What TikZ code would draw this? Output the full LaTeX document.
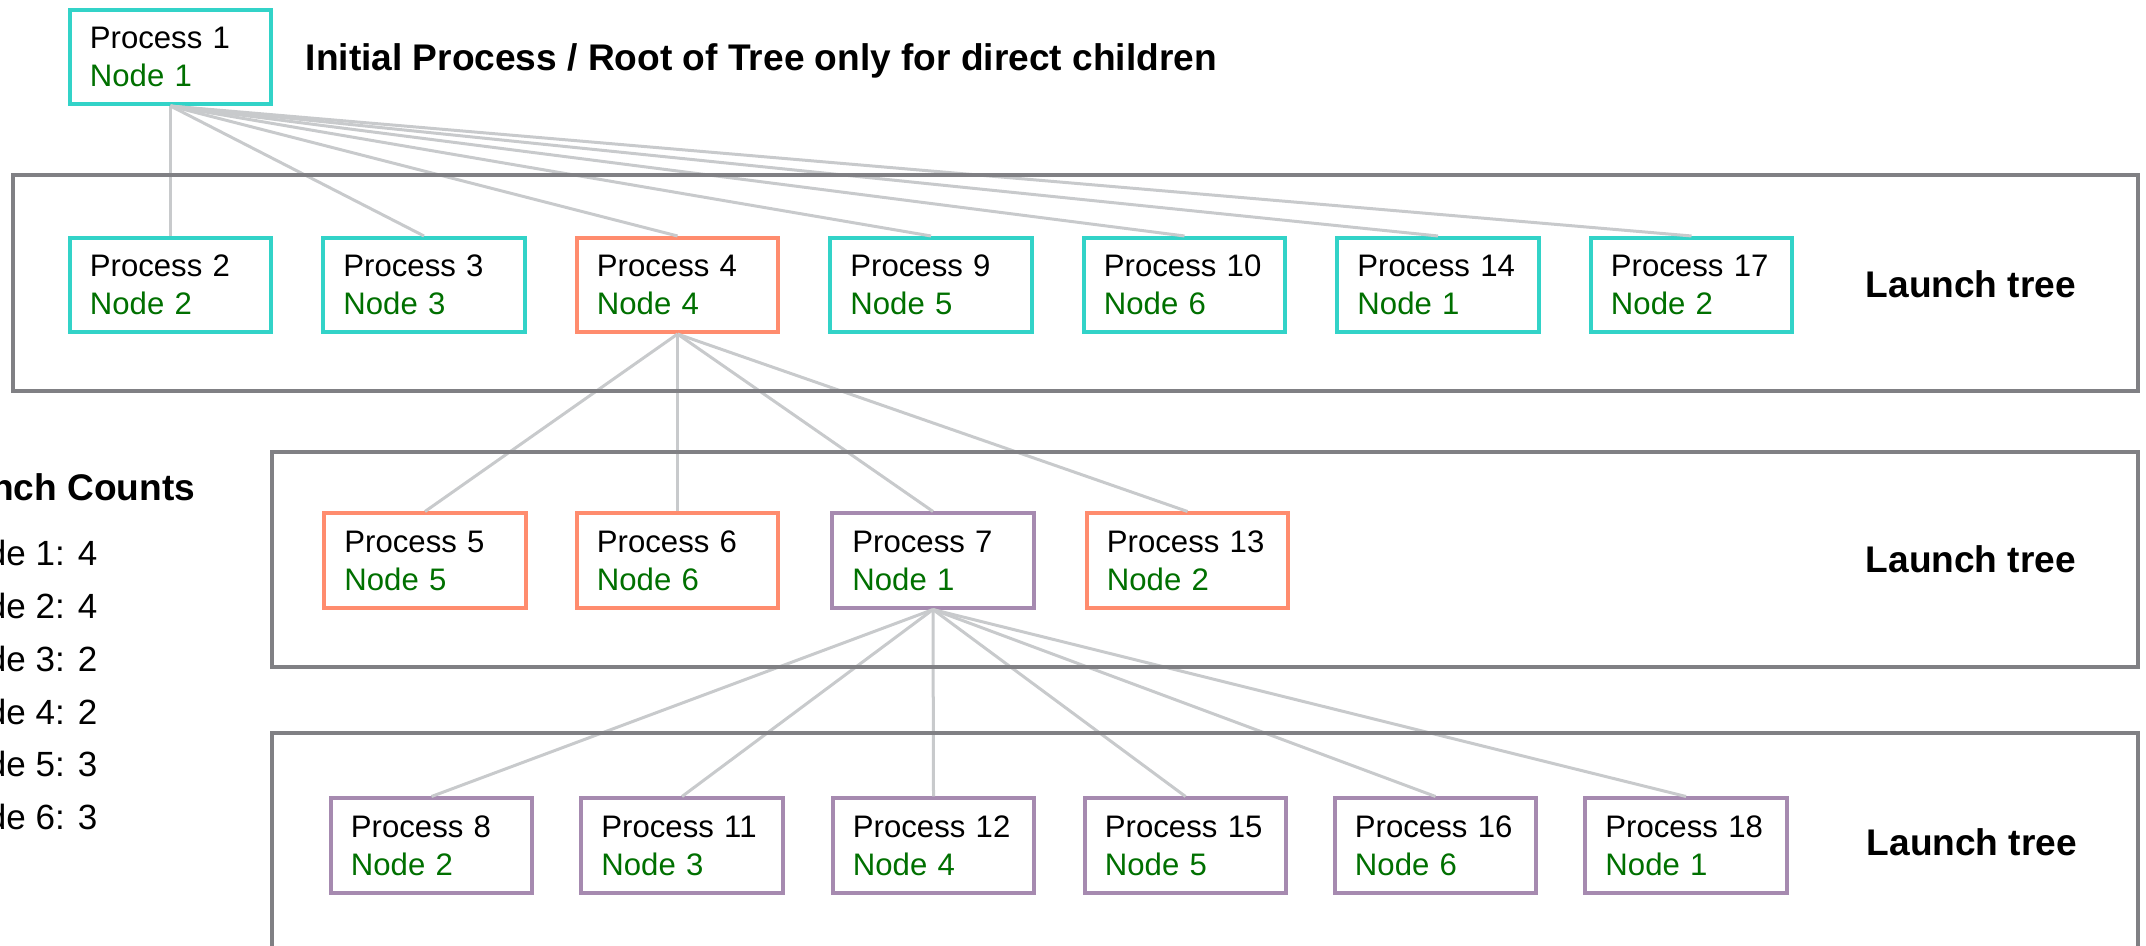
\documentclass[tikz,border=0pt]{standalone}
\usepackage{fontspec}
\setmainfont{Liberation Sans}
\definecolor{tealc}{RGB}{50,211,200}
\definecolor{salmonc}{RGB}{255,140,110}
\definecolor{purplec}{RGB}{166,138,176}
\definecolor{nodegreen}{RGB}{0,112,0}
\definecolor{framegray}{RGB}{128,128,132}
\definecolor{spawngray}{RGB}{200,202,204}
\begin{document}
\begin{tikzpicture}[x=0.01cm,y=-0.01cm]
	\tikzstyle{proc}=[rectangle,draw,line width=0.04cm,fill=white,minimum width=2.01cm,minimum height=0.94cm,text width=1.61cm,inner xsep=0.2cm,inner ysep=0pt,align=left,font=\fontsize{8.85}{10.82}\selectfont]
	\tikzstyle{spawn}=[draw,line width=0.03cm,spawngray]
	\tikzstyle{treeframe}=[draw=framegray,line width=0.04cm]
	\tikzstyle{heading}=[anchor=base west,inner sep=0pt,font=\bfseries\fontsize{10.55}{12}\selectfont]
	\tikzstyle{count}=[anchor=base east,inner sep=0pt,font=\fontsize{9.96}{12}\selectfont]
	\useasboundingbox (0,0) rectangle (2146,945);
	\clip (0,0) rectangle (2146,945);
	\begin{scope}
		% root
		\node [proc,draw=tealc] (p1) at (170.5,57) {Process 1\\\textcolor{nodegreen}{Node 1}};
		\node [heading] (title) at (305,70) {Initial Process / Root of Tree only for direct children};
		% first launch tree
		\node [proc,draw=tealc] (p2) at (170.5,285) {Process 2\\\textcolor{nodegreen}{Node 2}};
		\node [proc,draw=tealc] (p3) at (424,285) {Process 3\\\textcolor{nodegreen}{Node 3}};
		\node [proc,draw=salmonc] (p4) at (677.5,285) {Process 4\\\textcolor{nodegreen}{Node 4}};
		\node [proc,draw=tealc] (p9) at (931,285) {Process 9\\\textcolor{nodegreen}{Node 5}};
		\node [proc,draw=tealc] (p10) at (1184.5,285) {Process 10\\\textcolor{nodegreen}{Node 6}};
		\node [proc,draw=tealc] (p14) at (1438,285) {Process 14\\\textcolor{nodegreen}{Node 1}};
		\node [proc,draw=tealc] (p17) at (1691.5,285) {Process 17\\\textcolor{nodegreen}{Node 2}};
		\node [heading] (tree1) at (1865,297) {Launch tree};
		% second launch tree
		\node [proc,draw=salmonc] (p5) at (425,560.5) {Process 5\\\textcolor{nodegreen}{Node 5}};
		\node [proc,draw=salmonc] (p6) at (677.5,560.5) {Process 6\\\textcolor{nodegreen}{Node 6}};
		\node [proc,draw=purplec] (p7) at (933,560.5) {Process 7\\\textcolor{nodegreen}{Node 1}};
		\node [proc,draw=salmonc] (p13) at (1187.5,560.5) {Process 13\\\textcolor{nodegreen}{Node 2}};
		\node [heading] (tree2) at (1865,572) {Launch tree};
		% third launch tree
		\node [proc,draw=purplec] (p8) at (431.5,845.5) {Process 8\\\textcolor{nodegreen}{Node 2}};
		\node [proc,draw=purplec] (p11) at (682,845.5) {Process 11\\\textcolor{nodegreen}{Node 3}};
		\node [proc,draw=purplec] (p12) at (933.5,845.5) {Process 12\\\textcolor{nodegreen}{Node 4}};
		\node [proc,draw=purplec] (p15) at (1185.5,845.5) {Process 15\\\textcolor{nodegreen}{Node 5}};
		\node [proc,draw=purplec] (p16) at (1435.5,845.5) {Process 16\\\textcolor{nodegreen}{Node 6}};
		\node [proc,draw=purplec] (p18) at (1686,845.5) {Process 18\\\textcolor{nodegreen}{Node 1}};
		\node [heading] (tree3) at (1866,855) {Launch tree};
		% counts per node
		\node [heading,anchor=base east] (counts) at (196,500) {Launch Counts};
		\node [count] (c1) at (98,565) {Node 1: 4};
		\node [count] (c2) at (98,618) {Node 2: 4};
		\node [count] (c3) at (98,671) {Node 3: 2};
		\node [count] (c4) at (98,724) {Node 4: 2};
		\node [count] (c5) at (98,776) {Node 5: 3};
		\node [count] (c6) at (98,829) {Node 6: 3};
		% launches
		\path[spawn] (p1.south) edge (p2.north);
		\path[spawn] (p1.south) edge (p3.north);
		\path[spawn] (p1.south) edge (p4.north);
		\path[spawn] (p1.south) edge (p9.north);
		\path[spawn] (p1.south) edge (p10.north);
		\path[spawn] (p1.south) edge (p14.north);
		\path[spawn] (p1.south) edge (p17.north);
		\path[spawn] (p4.south) edge (p5.north);
		\path[spawn] (p4.south) edge (p6.north);
		\path[spawn] (p4.south) edge (p7.north);
		\path[spawn] (p4.south) edge (p13.north);
		\path[spawn] (p7.south) edge (p8.north);
		\path[spawn] (p7.south) edge (p11.north);
		\path[spawn] (p7.south) edge (p12.north);
		\path[spawn] (p7.south) edge (p15.north);
		\path[spawn] (p7.south) edge (p16.north);
		\path[spawn] (p7.south) edge (p18.north);
		% frames
		\draw[treeframe] (13,175) rectangle (2138,391);
		\draw[treeframe] (272,452) rectangle (2138,667);
		\draw[treeframe] (272,733) rectangle (2138,990);
	\end{scope}
\end{tikzpicture}
\end{document}
